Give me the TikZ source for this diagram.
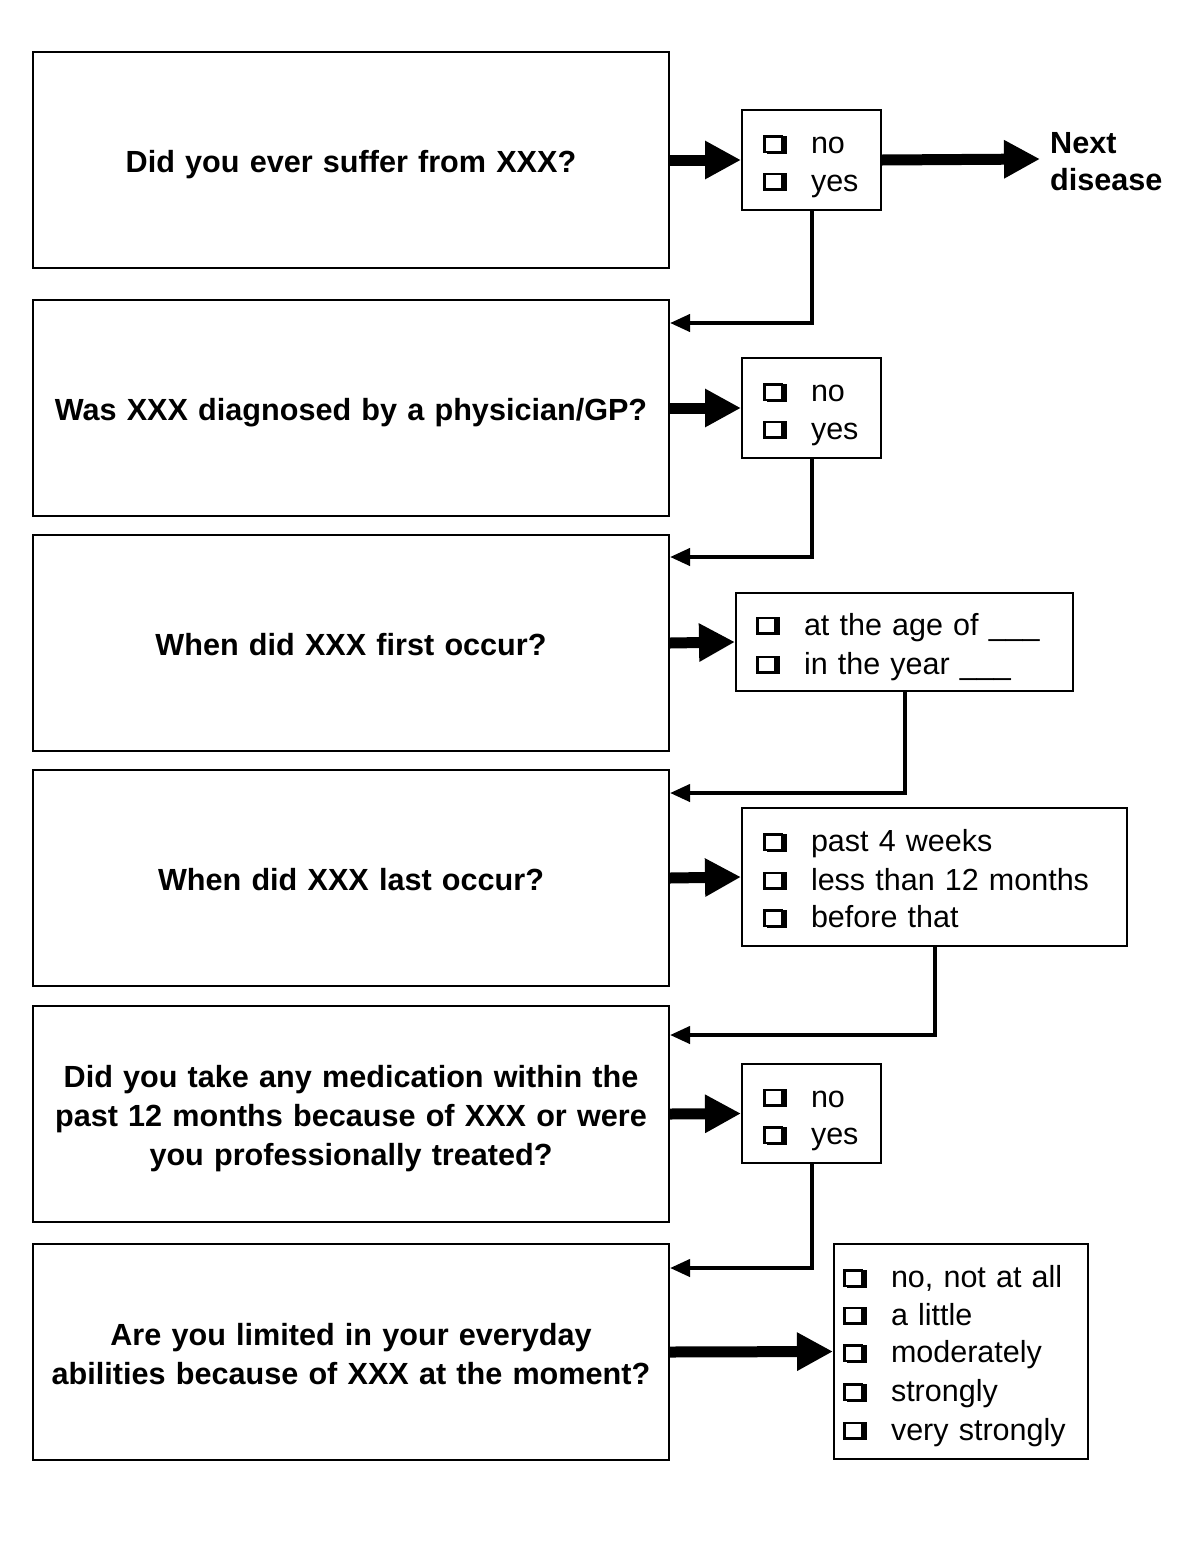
\documentclass[tikz,border=0pt]{standalone}
\usepackage{fontspec}
\setmainfont{Liberation Sans}
\usetikzlibrary{arrows.meta,calc}
\newcommand{\cbx}{\makebox[48pt][l]{\rlap{\hspace{3.5pt}\rule{20pt}{18pt}}\raisebox{3pt}{\setlength\fboxsep{0pt}\setlength\fboxrule{2.5pt}\fcolorbox{black}{white}{\rule{0pt}{13pt}\rule{15pt}{0pt}}}}}
\newcommand{\lstrut}{\rule[-6pt]{0pt}{37.5pt}}
\begin{document}
\begin{tikzpicture}[x=1pt,y=-1pt,
  every node/.style={font=\fontsize{30.5}{37.5}\selectfont},
  qbox/.style={draw, line width=2pt, minimum width=636pt, minimum height=216pt,
    text width=610pt, align=center, font=\fontsize{30.6}{37.5}\selectfont\bfseries,
    anchor=north west, inner sep=0pt},
  obox/.style={draw, line width=2pt, anchor=north west, align=left, inner ysep=0pt},
  bigarrow/.style={line width=11pt, -{Triangle[length=36pt,width=36pt]}},
  thinarrow/.style={line width=4pt, -{Triangle[length=20pt,width=17pt]}}]
\useasboundingbox (0,0) rectangle (1200,1545);

% question boxes
\node[qbox] (B1) at (32,51) {\lstrut Did you ever suffer from XXX?};
\node[qbox] (B2) at (32,299) {\lstrut Was XXX diagnosed by a physician/GP?};
\node[qbox] (B3) at (32,534) {\lstrut When did XXX first occur?};
\node[qbox] (B4) at (32,769) {\lstrut When did XXX last occur?};
\node[qbox] (B5) at (32,1005) {\lstrut Did you take any medication within the\\\lstrut past 12 months because of XXX or were\\\lstrut you professionally treated?};
\node[qbox] (B6) at (32,1243) {\lstrut Are you limited in your everyday\\\lstrut abilities because of XXX at the moment?};

% answer boxes
\node[obox, minimum width=139pt, minimum height=100pt, inner xsep=21pt, text width=97pt] (R1) at (741,109)
  {\lstrut\cbx no\\\lstrut\cbx yes};
\node[obox, minimum width=139pt, minimum height=100pt, inner xsep=21pt, text width=97pt] (R2) at (741,357)
  {\lstrut\cbx no\\\lstrut\cbx yes};
\node[obox, minimum width=337pt, minimum height=98pt, inner xsep=20pt, text width=297pt] (R3) at (735,592)
  {\lstrut\cbx at the age of \_\_\_\\\lstrut\cbx in the year \_\_\_};
\node[obox, minimum width=385pt, minimum height=138pt, inner xsep=21pt, text width=343pt] (R4) at (741,807)
  {\lstrut\cbx past 4 weeks\\\lstrut\cbx less than 12 months\\\lstrut\cbx before that};
\node[obox, minimum width=139pt, minimum height=99pt, inner xsep=21pt, text width=97pt] (R5) at (741,1063)
  {\lstrut\cbx no\\\lstrut\cbx yes};
\node[obox, minimum width=254pt, minimum height=215pt, inner xsep=9pt, text width=236pt] (R6) at (833,1243)
  {\lstrut\cbx no, not at all\\\lstrut\cbx a little\\\lstrut\cbx moderately\\\lstrut\cbx strongly\\\lstrut\cbx very strongly};

\node[anchor=west, align=left, inner xsep=10pt, inner ysep=0pt, font=\fontsize{30.6}{37.5}\selectfont\bfseries] (ND) at (1040,159) {\lstrut Next\\\lstrut disease};

% thick arrows
\draw[bigarrow] (B1.east) -- (R1.west);
\draw[bigarrow] (B2.east) -- (R2.west);
\draw[bigarrow] (B3.east) -- (R3.west);
\draw[bigarrow] (B4.east) -- (R4.west);
\draw[bigarrow] (B5.east) -- (R5.west);
\draw[bigarrow] (B6.east) -- (R6.west);
\draw[bigarrow] (R1.east) -- (ND.west);

% thin connectors
\draw[thinarrow] (R1.south) |- ($(B2.north east)+(0,24)$);
\draw[thinarrow] (R2.south) |- ($(B3.north east)+(0,23)$);
\draw[thinarrow] (R3.south) |- ($(B4.north east)+(0,24)$);
\draw[thinarrow] (R4.south) |- ($(B5.north east)+(0,30)$);
\draw[thinarrow] (R5.south) |- ($(B6.north east)+(0,25)$);
\end{tikzpicture}
\end{document}
